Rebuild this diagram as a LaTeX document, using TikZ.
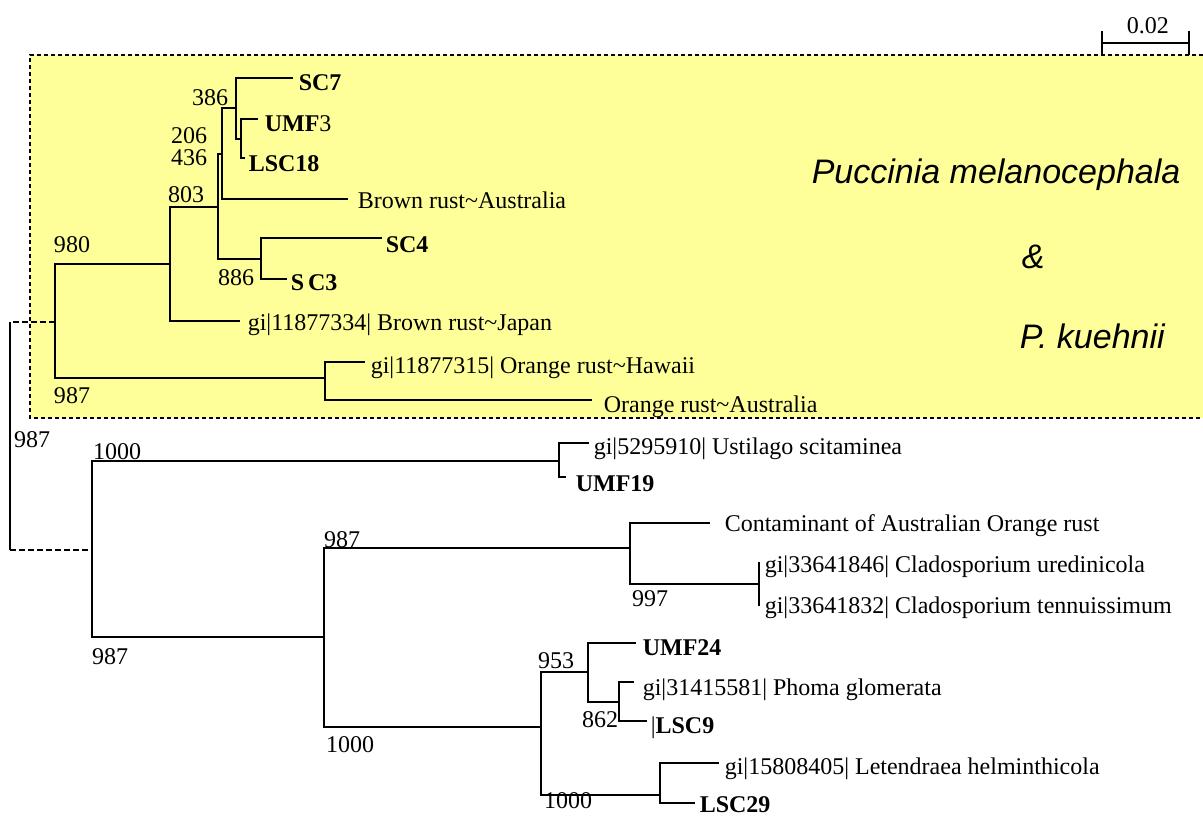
\documentclass[tikz,border=0pt]{standalone}
\usepackage{fontspec}
\setmainfont{Liberation Serif}
\newfontfamily\taxfont{Liberation Sans}
\definecolor{boxyellow}{RGB}{255,255,153}
\begin{document}
\begin{tikzpicture}[x=0.5pt,y=-0.5pt,line width=0.8pt,font=\fontsize{12}{14}\selectfont,
	leaf/.style={anchor=base west,inner sep=0pt},
	boot/.style={inner sep=0pt},
	frame/.style={dash pattern=on 2pt off 1.5pt},
	rootline/.style={dash pattern=on 3pt off 1.5pt}]
	\useasboundingbox (0,0) rectangle (1203,815);
	% shaded clade
	\fill[boxyellow] (30,55) rectangle (1203,418);
	\draw[frame] (1203,55)--(30,55)--(30,418)--(1203,418);
	\node[leaf,font=\taxfont\itshape\fontsize{17}{20}\selectfont] (pmel) at (811,183) {Puccinia melanocephala};
	\node[leaf,font=\taxfont\itshape\fontsize{17}{20}\selectfont] (amp) at (1021,268) {\&};
	\node[leaf,font=\taxfont\itshape\fontsize{17}{20}\selectfont] (pkue) at (1019,348) {P. kuehnii};
	% scale bar
	\coordinate (sbl) at (1102,43);
	\coordinate (sbr) at (1189,43);
	\draw (sbl)--(sbr) (1102,31)--(1102,55) (1189,31)--(1189,55);
	\node[leaf] (sblab) at (1126,33) {0.02};
	% upper clade
	\coordinate (pm) at (55,322);
	\coordinate (n803) at (170,264);
	\coordinate (nc) at (218,207);
	\coordinate (ne) at (222,154);
	\coordinate (n386) at (236,108);
	\coordinate (nf) at (241,139);
	\coordinate (n886) at (261,259);
	\coordinate (nor) at (325,378);
	\coordinate (sc7) at (293,78);
	\coordinate (umf3) at (258,119);
	\coordinate (lsc18) at (245,158);
	\coordinate (brau) at (348,199);
	\coordinate (sc4) at (382,238);
	\coordinate (sc3) at (287,279);
	\coordinate (japan) at (240,321);
	\coordinate (hawaii) at (365,362);
	\coordinate (orau) at (592,400);
	\draw (sc7) -| (n386) |- (nf);
	\draw (umf3) -| (nf) |- (lsc18);
	\draw (n386) -| (ne) |- (brau);
	\draw (ne) -| (nc) |- (n886);
	\draw (sc4) -| (n886) |- (sc3);
	\draw (nc) -| (n803) |- (japan);
	\draw (n803) -| (pm) |- (nor);
	\draw (hawaii) -| (nor) |- (orau);
	\node[leaf] (t-sc7) at (298,90) {\textbf{SC7}};
	\node[leaf] (t-umf3) at (264,131) {\textbf{UMF}3};
	\node[leaf] (t-lsc18) at (248,171) {\textbf{LSC18}};
	\node[leaf] (t-brau) at (357,208) {Brown rust\textasciitilde Australia};
	\node[leaf] (t-sc4) at (385,252) {\textbf{SC4}};
	\node[leaf] (t-sc3) at (290,290) {\textbf{S\,C3}};
	\node[leaf] (t-japan) at (247,330) {gi|11877334| Brown rust\textasciitilde Japan};
	\node[leaf] (t-hawaii) at (370,373) {gi|11877315| Orange rust\textasciitilde Hawaii};
	\node[leaf] (t-orau) at (603,412) {Orange rust\textasciitilde Australia};
	\node[boot] (b386) at (210,98) {386};
	\node[boot] (b206) at (189,136) {206};
	\node[boot] (b436) at (189,158) {436};
	\node[boot] (b803) at (186,195) {803};
	\node[boot] (b980) at (72,245) {980};
	\node[boot] (b886) at (236,278) {886};
	\node[boot] (b987a) at (72,396) {987};
	% root
	\coordinate (root) at (10,436);
	\coordinate (low) at (92,550);
	\draw[rootline] (pm) -- (root|-pm);
	\draw (root|-pm) -- (root|-low);
	\draw[rootline] (root|-low) -- (low);
	\node[boot] (broot) at (32,440) {987};
	% lower clade
	\coordinate (ust) at (559,461);
	\coordinate (n987) at (324,637);
	\coordinate (n997) at (630,548);
	\coordinate (clado) at (759,584);
	\coordinate (n1000) at (541,727);
	\coordinate (n953) at (588,672);
	\coordinate (n862) at (619,702);
	\coordinate (nlet) at (660,795);
	\coordinate (ustil) at (589,443);
	\coordinate (umf19) at (566,477);
	\coordinate (contam) at (710,523);
	\coordinate (ured) at (760,563);
	\coordinate (tenn) at (760,605);
	\coordinate (umf24) at (636,643);
	\coordinate (phoma) at (634,682);
	\coordinate (lsc9) at (647,721);
	\coordinate (leten) at (719,763);
	\coordinate (lsc29) at (695,803);
	\draw (ust) -| (low) |- (n987);
	\draw (ustil) -| (ust) |- (umf19);
	\draw (n997) -| (n987) |- (n1000);
	\draw (contam) -| (n997) |- (clado);
	\draw (ured) -| (clado) |- (tenn);
	\draw (n953) -| (n1000) |- (nlet);
	\draw (umf24) -| (n953) |- (n862);
	\draw (phoma) -| (n862) |- (lsc9);
	\draw (leten) -| (nlet) |- (lsc29);
	\node[leaf] (t-ustil) at (593,454) {gi|5295910| Ustilago scitaminea};
	\node[leaf] (t-umf19) at (575,491) {\textbf{UMF19}};
	\node[leaf] (t-contam) at (724,531) {Contaminant of Australian Orange rust};
	\node[leaf] (t-ured) at (764,572) {gi|33641846| Cladosporium uredinicola};
	\node[leaf] (t-tenn) at (764,613) {gi|33641832| Cladosporium tennuissimum};
	\node[leaf] (t-umf24) at (642,655) {\textbf{UMF24}};
	\node[leaf] (t-phoma) at (642,695) {gi|31415581| Phoma glomerata};
	\node[leaf] (t-lsc9) at (650,733) {|\textbf{LSC9}};
	\node[leaf] (t-leten) at (724,774) {gi|15808405| Letendraea helminthicola};
	\node[leaf] (t-lsc29) at (699,812) {\textbf{LSC29}};
	\node[boot] (b1000a) at (117,452) {1000};
	\node[boot] (b987b) at (110,657) {987};
	\node[boot] (b987c) at (342,540) {987};
	\node[boot] (b1000b) at (350,745) {1000};
	\node[boot] (b997) at (650,599) {997};
	\node[boot] (b953) at (556,661) {953};
	\node[boot] (b862) at (600,720) {862};
	\node[boot] (b1000c) at (568,801) {1000};
\end{tikzpicture}
\end{document}
